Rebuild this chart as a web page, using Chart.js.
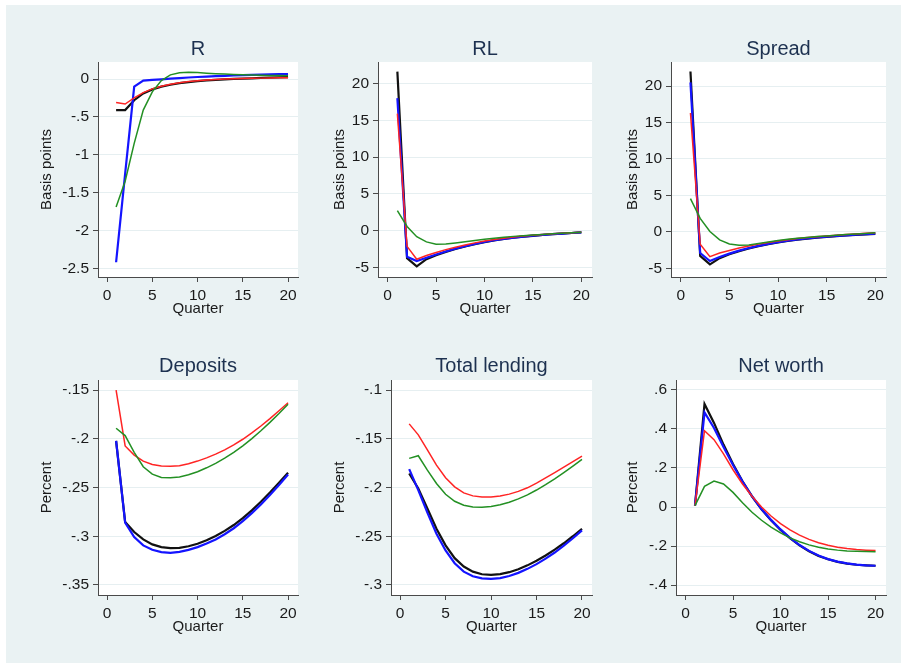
<!DOCTYPE html>
<html>
<head>
<meta charset="utf-8">
<script src="https://cdn.jsdelivr.net/npm/chart.js@4.4.1/dist/chart.umd.min.js"></script>
<style>
  body { margin: 0; background: #fff; width: 905px; height: 668px; position: relative; overflow: hidden; }
  #bg { position: absolute; left: 6px; top: 5px; width: 895px; height: 658px; background: #eaf2f3; }
  canvas { position: absolute; }
</style>
</head>
<body>
<div id="bg"></div>
<canvas id="cR"></canvas>
<canvas id="cRL"></canvas>
<canvas id="cSpread"></canvas>
<canvas id="cDep"></canvas>
<canvas id="cLend"></canvas>
<canvas id="cNW"></canvas>
<script>
// quarters after the shock
const quarters = [1,2,3,4,5,6,7,8,9,10,11,12,13,14,15,16,17,18,19,20];
const xTicks = [0, 5, 10, 15, 20];

// R (basis points)
const rBlack = [-0.41,-0.41,-0.28,-0.19,-0.137,-0.100,-0.075,-0.055,-0.040,-0.028,-0.018,-0.010,-0.004,0.001,0.005,0.010,0.014,0.018,0.022,0.026];
const rBlue  = [-2.42,-1.25,-0.10,-0.02,-0.012,-0.004,0.005,0.013,0.020,0.027,0.033,0.038,0.043,0.047,0.051,0.055,0.058,0.061,0.064,0.066];
const rRed   = [-0.31,-0.33,-0.25,-0.18,-0.13,-0.095,-0.068,-0.048,-0.033,-0.022,-0.013,-0.006,-0.001,0.003,0.007,0.010,0.012,0.014,0.016,0.018];
const rGreen = [-1.69,-1.35,-0.85,-0.41,-0.17,-0.02,0.055,0.083,0.088,0.085,0.078,0.071,0.065,0.060,0.056,0.053,0.050,0.048,0.046,0.044];
const rTicks = [-2.5, -2, -1.5, -1, -0.5, 0];

// RL (basis points)
const rlBlack = [21.6,-3.7,-4.83,-3.85,-3.3,-2.85,-2.45,-2.1,-1.8,-1.53,-1.3,-1.1,-0.93,-0.79,-0.67,-0.56,-0.46,-0.37,-0.29,-0.22];
const rlBlue  = [18.0,-3.5,-4.1,-3.65,-3.2,-2.8,-2.42,-2.08,-1.78,-1.51,-1.28,-1.09,-0.92,-0.78,-0.66,-0.55,-0.45,-0.37,-0.29,-0.22];
const rlRed   = [15.9,-2.1,-3.85,-3.35,-2.93,-2.55,-2.22,-1.92,-1.63,-1.38,-1.17,-0.99,-0.84,-0.71,-0.6,-0.5,-0.41,-0.33,-0.25,-0.18];
const rlGreen = [2.75,0.6,-0.8,-1.5,-1.82,-1.8,-1.65,-1.48,-1.3,-1.13,-0.99,-0.86,-0.75,-0.65,-0.56,-0.48,-0.4,-0.32,-0.25,-0.18];
const rlTicks = [-5, 0, 5, 10, 15, 20];

// Spread (basis points)
const spreadBlack = [22.0,-3.3,-4.45,-3.6,-3.08,-2.65,-2.28,-1.95,-1.68,-1.45,-1.25,-1.07,-0.92,-0.79,-0.68,-0.58,-0.49,-0.41,-0.34,-0.27];
const spreadBlue  = [20.5,-2.9,-4.0,-3.45,-2.98,-2.58,-2.22,-1.91,-1.65,-1.42,-1.22,-1.05,-0.9,-0.77,-0.66,-0.56,-0.47,-0.39,-0.32,-0.25];
const spreadRed   = [16.3,-1.7,-3.4,-2.9,-2.55,-2.22,-1.93,-1.68,-1.45,-1.25,-1.07,-0.92,-0.78,-0.66,-0.55,-0.45,-0.36,-0.28,-0.2,-0.13];
const spreadGreen = [4.55,1.85,0.05,-1.1,-1.65,-1.83,-1.8,-1.6,-1.38,-1.18,-1.02,-0.88,-0.76,-0.65,-0.55,-0.46,-0.37,-0.29,-0.21,-0.12];
const spreadTicks = [-5, 0, 5, 10, 15, 20];

// Deposits (percent)
const depBlack = [-0.2022,-0.2854,-0.2957,-0.3033,-0.3084,-0.3112,-0.3122,-0.3119,-0.3103,-0.3077,-0.3041,-0.2998,-0.2945,-0.2885,-0.2815,-0.2735,-0.2647,-0.2552,-0.2452,-0.2349];
const depBlue  = [-0.2022,-0.2860,-0.3009,-0.3094,-0.3139,-0.3163,-0.3170,-0.3160,-0.3140,-0.3112,-0.3075,-0.3033,-0.2980,-0.2918,-0.2845,-0.2763,-0.2674,-0.2578,-0.2475,-0.2366];
const depRed   = [-0.1500,-0.2074,-0.2167,-0.2229,-0.2263,-0.2280,-0.2283,-0.2277,-0.2257,-0.2229,-0.2196,-0.2158,-0.2114,-0.2063,-0.2005,-0.1940,-0.1869,-0.1793,-0.1713,-0.1630];
const depGreen = [-0.1892,-0.1967,-0.2139,-0.2287,-0.2363,-0.2397,-0.2400,-0.2392,-0.2370,-0.2338,-0.2298,-0.2252,-0.2199,-0.2139,-0.2072,-0.1998,-0.1918,-0.1832,-0.1741,-0.1645];
const depTicks = [-0.35, -0.3, -0.25, -0.2, -0.15];

// Total lending (percent)
const lendBlack = [-0.1856,-0.2010,-0.2216,-0.2423,-0.2594,-0.2725,-0.2811,-0.2863,-0.2890,-0.2897,-0.2889,-0.2869,-0.2838,-0.2799,-0.2752,-0.2698,-0.2637,-0.2572,-0.2500,-0.2423];
const lendBlue  = [-0.1811,-0.2027,-0.2258,-0.2474,-0.2646,-0.2777,-0.2863,-0.2911,-0.2933,-0.2938,-0.2929,-0.2908,-0.2876,-0.2835,-0.2786,-0.2730,-0.2667,-0.2597,-0.2521,-0.2440];
const lendRed   = [-0.1347,-0.1460,-0.1615,-0.1770,-0.1900,-0.1993,-0.2055,-0.2086,-0.2098,-0.2097,-0.2087,-0.2068,-0.2040,-0.2003,-0.1955,-0.1902,-0.1847,-0.1791,-0.1734,-0.1677];
const lendGreen = [-0.1701,-0.1674,-0.1821,-0.1959,-0.2069,-0.2141,-0.2182,-0.2199,-0.2203,-0.2195,-0.2177,-0.2151,-0.2117,-0.2075,-0.2026,-0.1971,-0.1911,-0.1847,-0.1780,-0.1711];
const lendTicks = [-0.3, -0.25, -0.2, -0.15, -0.1];

// Net worth (percent)
const nwBlack = [0.007,0.528,0.431,0.320,0.220,0.132,0.055,-0.012,-0.068,-0.117,-0.160,-0.197,-0.227,-0.251,-0.268,-0.281,-0.290,-0.296,-0.299,-0.301];
const nwBlue  = [0.007,0.485,0.405,0.308,0.215,0.130,0.055,-0.010,-0.066,-0.115,-0.158,-0.195,-0.225,-0.249,-0.267,-0.280,-0.289,-0.295,-0.299,-0.301];
const nwRed   = [0.007,0.391,0.345,0.272,0.191,0.118,0.055,0.000,-0.046,-0.085,-0.117,-0.144,-0.166,-0.183,-0.196,-0.206,-0.213,-0.218,-0.221,-0.223];
const nwGreen = [0.007,0.106,0.133,0.118,0.075,0.022,-0.027,-0.068,-0.103,-0.133,-0.158,-0.178,-0.194,-0.206,-0.215,-0.221,-0.225,-0.227,-0.228,-0.229];
const nwTicks = [-0.4, -0.2, 0, 0.2, 0.4, 0.6];

const FONT = "'Liberation Sans', Arial, sans-serif";
const INK = '#1a1a1a';
const AXIS = '#4a4a4a';

// stata-style labels: -.5 instead of -0.5
function fmt(v) {
  return String(v).replace(/^(-?)0\./, '$1.');
}

function xy(vals) {
  return quarters.map((q, i) => ({x: q, y: vals[i]}));
}

// white plot region on the grey background
const plotBg = {
  id: 'plotBg',
  beforeDraw(chart) {
    const a = chart.chartArea, ctx = chart.ctx;
    ctx.save();
    ctx.fillStyle = '#ffffff';
    ctx.fillRect(a.left, a.top, a.right - a.left, a.bottom - a.top);
    ctx.restore();
  }
};

// panel boxes: canvas left/top, y-axis width, plot width, title padding
const panels = [
  {id: 'cR',      title: 'R',             yTitle: 'Basis points', left: 38,  top: 37,  axisW: 60, plotW: 200, h: 281, tPad: 1,
   series: [rBlack, rBlue, rRed, rGreen], ticks: rTicks, min: -2.615, max: 0.225},
  {id: 'cRL',     title: 'RL',            yTitle: 'Basis points', left: 331, top: 37,  axisW: 47, plotW: 214, h: 281, tPad: 1,
   series: [rlBlack, rlBlue, rlRed, rlGreen], ticks: rlTicks, min: -6.26, max: 22.9},
  {id: 'cSpread', title: 'Spread',        yTitle: 'Basis points', left: 624, top: 37,  axisW: 47, plotW: 215, h: 281, tPad: 1,
   series: [spreadBlack, spreadBlue, spreadRed, spreadGreen], ticks: spreadTicks, min: -6.19, max: 23.3},
  {id: 'cDep',    title: 'Deposits',      yTitle: 'Percent',      left: 38,  top: 354, axisW: 60, plotW: 200, h: 282, tPad: 2,
   series: [depBlack, depBlue, depRed, depGreen], ticks: depTicks, min: -0.3603, max: -0.1397},
  {id: 'cLend',   title: 'Total lending', yTitle: 'Percent',      left: 331, top: 354, axisW: 60, plotW: 201, h: 282, tPad: 2,
   series: [lendBlack, lendBlue, lendRed, lendGreen], ticks: lendTicks, min: -0.3103, max: -0.0897},
  {id: 'cNW',     title: 'Net worth',     yTitle: 'Percent',      left: 624, top: 354, axisW: 52, plotW: 210, h: 282, tPad: 2,
   series: [nwBlack, nwBlue, nwRed, nwGreen], ticks: nwTicks, min: -0.451, max: 0.651}
];

const lineColors = ['#111111', '#1414ff', '#ff2424', '#239023'];
const lineWidths = [2.2, 2.2, 1.5, 1.5];

panels.forEach(p => {
  const cv = document.getElementById(p.id);
  const w = p.axisW + p.plotW + 12;
  cv.width = w; cv.height = p.h;
  cv.style.left = p.left + 'px';
  cv.style.top = p.top + 'px';
  cv.style.width = w + 'px';
  cv.style.height = p.h + 'px';

  // green drawn on top, black at the back
  const datasets = [3, 2, 1, 0].map(k => ({
    data: xy(p.series[k]),
    borderColor: lineColors[k],
    borderWidth: lineWidths[k],
    pointRadius: 0,
    tension: 0,
    fill: false
  }));

  new Chart(cv, {
    type: 'line',
    data: {datasets: datasets},
    options: {
      responsive: false,
      animation: false,
      layout: {padding: {left: 0, top: 0, right: 12, bottom: 0}},
      plugins: {
        legend: {display: false},
        tooltip: {enabled: false},
        title: {
          display: true, text: p.title, color: '#1d3150', fullSize: false,
          font: {family: FONT, size: 20, weight: 'normal', lineHeight: 1.2},
          padding: {top: 0, bottom: p.tPad}
        }
      },
      scales: {
        x: {
          type: 'linear', min: -1, max: 21.1,
          afterBuildTicks: s => { s.ticks = xTicks.map(v => ({value: v})); },
          afterFit: s => { s.height = 41; },
          grid: {drawOnChartArea: false, drawTicks: true, tickLength: 5, tickColor: AXIS, lineWidth: 1},
          border: {color: AXIS, width: 1},
          ticks: {color: INK, padding: 4, maxRotation: 0, font: {family: FONT, size: 15.5, lineHeight: 1.2}},
          title: {display: true, text: 'Quarter', color: INK, padding: {top: 0, bottom: 0},
                  font: {family: FONT, size: 15, lineHeight: 1.2}}
        },
        y: {
          type: 'linear', min: p.min, max: p.max,
          afterBuildTicks: s => { s.ticks = p.ticks.map(v => ({value: v})); },
          afterFit: s => { s.width = p.axisW; },
          grid: {color: '#e6eff1', lineWidth: 1, drawTicks: true, tickLength: 5, tickColor: AXIS},
          border: {color: AXIS, width: 1},
          ticks: {color: INK, padding: 4, callback: v => fmt(v), font: {family: FONT, size: 15.5, lineHeight: 1.2}},
          title: {display: true, text: p.yTitle, color: INK, padding: {top: 0, bottom: 0},
                  font: {family: FONT, size: 15, lineHeight: 1.2}}
        }
      }
    },
    plugins: [plotBg]
  });
});
</script>
</body>
</html>
